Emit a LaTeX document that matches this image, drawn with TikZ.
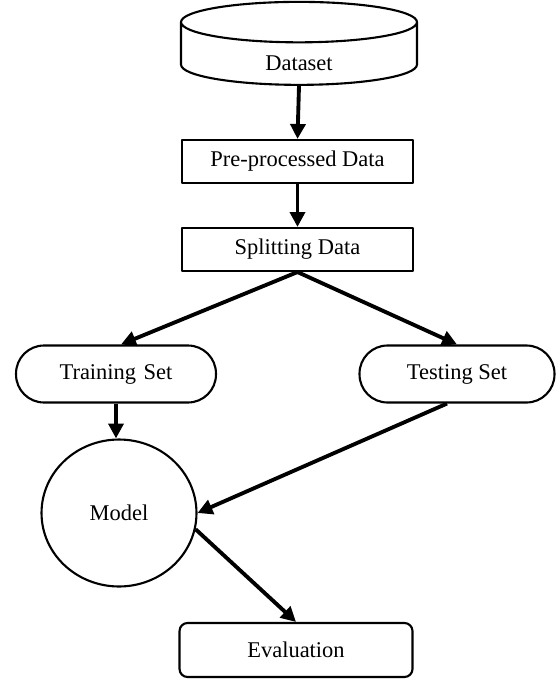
\documentclass[tikz,border=0pt]{standalone}
\usepackage{fontspec}
\setmainfont{Liberation Serif}
\usetikzlibrary{shapes.geometric,arrows.meta}
\begin{document}
\begin{tikzpicture}[x=0.02cm,y=-0.02cm,>={Triangle[length=8.5pt,width=8.5pt]},line join=round,font=\fontsize{12.8}{15}\selectfont,
	box/.style={draw,line width=1.2pt,minimum width=4.62cm,minimum height=0.86cm,inner sep=0pt},
	pill/.style={draw,line width=1.2pt,rounded corners=0.56cm,minimum height=1.14cm,inner sep=0pt},
	flow/.style={->,line width=2.2pt}]
	\useasboundingbox (0,0) rectangle (557,680);
	\node[cylinder,shape border rotate=90,draw,line width=1.2pt,aspect=0.6,minimum width=4.72cm,minimum height=1.66cm,inner sep=0pt] (data) at (299,54) {\phantom{Dataset}};
	\node (datatext) at ([yshift=-0.18cm]data.center) {Dataset};
	\node[box] (pre) at (297.5,161.5) {Pre-processed Data};
	\node[box] (split) at (297.5,249.5) {Splitting Data};
	\node[pill,minimum width=4cm] (train) at (116,374) {Training\,\,Set};
	\node[pill,minimum width=3.9cm] (test) at (457,374) {Testing Set};
	\node[ellipse,draw,line width=1.2pt,minimum width=3.1cm,minimum height=2.94cm,inner sep=0pt] (model) at (119,513) {Model};
	\node[draw,line width=1.2pt,rounded corners=0.16cm,minimum width=4.66cm,minimum height=1.08cm,inner sep=0pt] (eval) at (296,650) {Evaluation};
	\draw[flow] (data.south)--(pre.north);
	\draw[flow] (pre)--(split);
	\draw[flow] (split.south)--([xshift=0.1cm]train.north);
	\draw[flow] (split.south)--(test.north);
	\draw[flow] (train.south)--(train.south|-model.north);
	\draw[flow] ([xshift=-0.2cm]test.south)--(model.east);
	\draw[flow] (model.-12)--(eval.north);
\end{tikzpicture}
\end{document}
